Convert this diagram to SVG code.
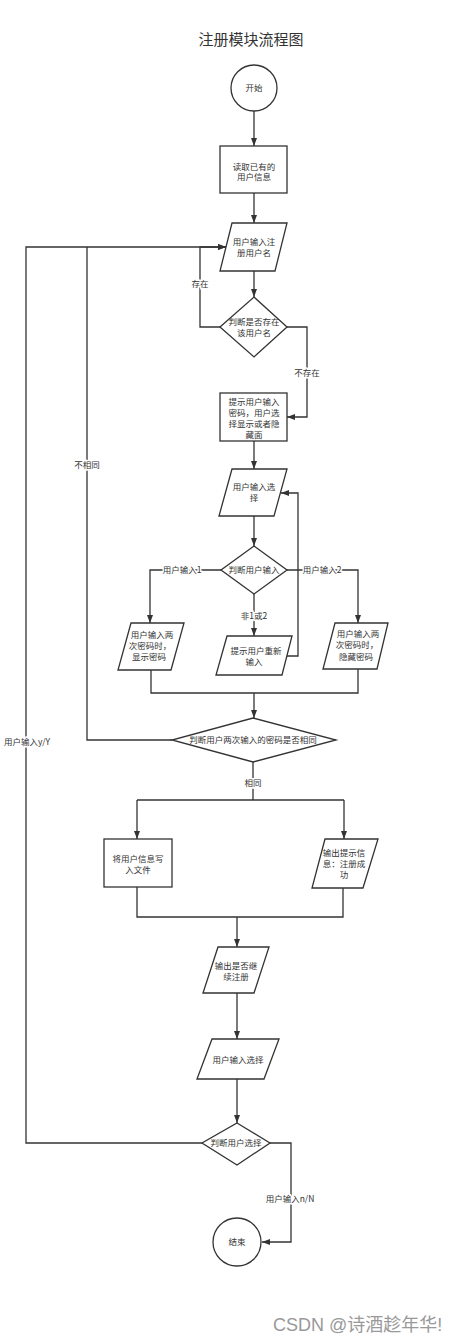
<svg xmlns="http://www.w3.org/2000/svg" width="464" height="1336" viewBox="0 0 464 1336">
<style>
.s{fill:#fff;stroke:#333;stroke-width:1.3}
.c{fill:none;stroke:#333;stroke-width:1.3}
.t{font-family:"Noto Sans CJK SC","Liberation Sans",sans-serif;font-size:8.5px;fill:#333;text-anchor:middle}
.l{font-family:"Noto Sans CJK SC","Liberation Sans",sans-serif;font-size:8.5px;fill:#333;text-anchor:middle;paint-order:stroke;stroke:#fff;stroke-width:3px}
</style>
<defs>
<marker id="a" markerWidth="8" markerHeight="6" refX="8" refY="3" orient="auto" markerUnits="userSpaceOnUse">
<path d="M0,0 L8,3 L0,6 z" fill="#333"/>
</marker>
</defs>
<rect width="464" height="1336" fill="#fff"/>
<text x="251" y="45" style="font-family:'Noto Sans CJK SC',sans-serif;font-size:15px;fill:#333;text-anchor:middle">注册模块流程图</text>

<g id="connectors">
<path class="c" d="M254,111 V146" marker-end="url(#a)"/>
<path class="c" d="M254,193 V223" marker-end="url(#a)"/>
<path class="c" d="M254,271 V297" marker-end="url(#a)"/>
<path class="c" d="M220,327 H200 V247 H226" marker-end="url(#a)"/>
<path class="c" d="M287,327 H307 V417 H287" marker-end="url(#a)"/>
<path class="c" d="M254,441 V469" marker-end="url(#a)"/>
<path class="c" d="M254,516 V546" marker-end="url(#a)"/>
<path class="c" d="M221,570 H150 V623" marker-end="url(#a)"/>
<path class="c" d="M287,570 H358 V623" marker-end="url(#a)"/>
<path class="c" d="M254,594 V636" marker-end="url(#a)"/>
<path class="c" d="M287,656 H298 V493 H281" marker-end="url(#a)"/>
<path class="c" d="M151,670 V693 H358 V669"/>
<path class="c" d="M254,693 V718" marker-end="url(#a)"/>
<path class="c" d="M172,740 H87 V247"/>
<path class="c" d="M253,762 V800"/>
<path class="c" d="M137,800 H344"/>
<path class="c" d="M137,800 V839" marker-end="url(#a)"/>
<path class="c" d="M344,800 V839" marker-end="url(#a)"/>
<path class="c" d="M137,887 V917 H343 V888"/>
<path class="c" d="M237,917 V947" marker-end="url(#a)"/>
<path class="c" d="M237,993 V1039" marker-end="url(#a)"/>
<path class="c" d="M237,1079 V1123" marker-end="url(#a)"/>
<path class="c" d="M202,1143 H26 V247 H226" marker-end="url(#a)"/>
<path class="c" d="M270,1143 H291 V1242 H262" marker-end="url(#a)"/>
<text class="l" x="200" y="287">存在</text>
<text class="l" x="307" y="376">不存在</text>
<text class="l" x="182" y="573">用户输入1</text>
<text class="l" x="322" y="573">用户输入2</text>
<text class="l" x="254" y="619">非1或2</text>
<text class="l" x="87" y="468">不相同</text>
<text class="l" x="253" y="786">相同</text>
<text class="l" x="27" y="745">用户输入y/Y</text>
<text class="l" x="290" y="1202">用户输入n/N</text>
</g>

<g id="start"><circle class="s" cx="254" cy="88" r="23"/><text class="t" x="254" y="91">开始</text></g>
<g id="read"><rect class="s" x="220" y="146" width="67" height="47"/><text class="t" x="254" y="170">读取已有的</text><text class="t" x="254" y="180">用户信息</text></g>
<g id="inputName"><polygon class="s" points="232,223 287,223 275,271 220,271"/><text class="t" x="254" y="245">用户输入注</text><text class="t" x="254" y="256">册用户名</text></g>
<g id="checkName"><polygon class="s" points="254,297 287,327 254,357 220,327"/><text class="t" x="254" y="325">判断是否存在</text><text class="t" x="254" y="336">该用户名</text></g>
<g id="prompt"><rect class="s" x="220" y="393" width="67" height="48"/><text class="t" x="254" y="405">提示用户输入</text><text class="t" x="254" y="416">密码，用户选</text><text class="t" x="254" y="427">择显示或者隐</text><text class="t" x="254" y="438">藏面</text></g>
<g id="inputChoice"><polygon class="s" points="232,469 287,469 274,516 219,516"/><text class="t" x="254" y="490">用户输入选</text><text class="t" x="254" y="501">择</text></g>
<g id="checkChoice"><polygon class="s" points="254,546 287,570 254,594 221,570"/><text class="t" x="254" y="573">判断用户输入</text></g>
<g id="showPwd"><polygon class="s" points="131,623 184,623 171,670 118,670"/><text class="t" x="152" y="638">用户输入两</text><text class="t" x="150" y="648.5">次密码时，</text><text class="t" x="149" y="660">显示密码</text></g>
<g id="retry"><polygon class="s" points="227,636 292,636 282,675 216,675"/><text class="t" x="256" y="654">提示用户重新</text><text class="t" x="254" y="665">输入</text></g>
<g id="hidePwd"><polygon class="s" points="335,623 388,623 377,669 323,669"/><text class="t" x="358" y="637">用户输入两</text><text class="t" x="357" y="647.5">次密码时，</text><text class="t" x="356" y="660">隐藏密码</text></g>
<g id="checkSame"><polygon class="s" points="253,718 336,740 253,762 172,740"/><text class="t" x="253" y="743">判断用户两次输入的密码是否相同</text></g>
<g id="writeFile"><rect class="s" x="104" y="839" width="68" height="48"/><text class="t" x="138" y="862">将用户信息写</text><text class="t" x="138" y="873">入文件</text></g>
<g id="success"><polygon class="s" points="325,839 378,839 363,888 312,888"/><text class="t" x="344" y="856">输出提示信</text><text class="t" x="344" y="866.5">息：注册成</text><text class="t" x="344" y="878">功</text></g>
<g id="askContinue"><polygon class="s" points="218,947 269,947 254,993 203,993"/><text class="t" x="236" y="969">输出是否继</text><text class="t" x="236" y="980">续注册</text></g>
<g id="inputSel"><polygon class="s" points="212,1039 279,1039 264,1079 197,1079"/><text class="t" x="238" y="1063">用户输入选择</text></g>
<g id="checkSel"><polygon class="s" points="237,1123 270,1143 237,1165 202,1143"/><text class="t" x="236" y="1146">判断用户选择</text></g>
<g id="end"><circle class="s" cx="237" cy="1242" r="24"/><text class="t" x="237" y="1245">结束</text></g>

<text x="273" y="1331" style="font-family:'Liberation Sans','Noto Sans CJK SC',sans-serif;font-size:18px;fill:#999">CSDN @诗酒趁年华!</text>
</svg>
